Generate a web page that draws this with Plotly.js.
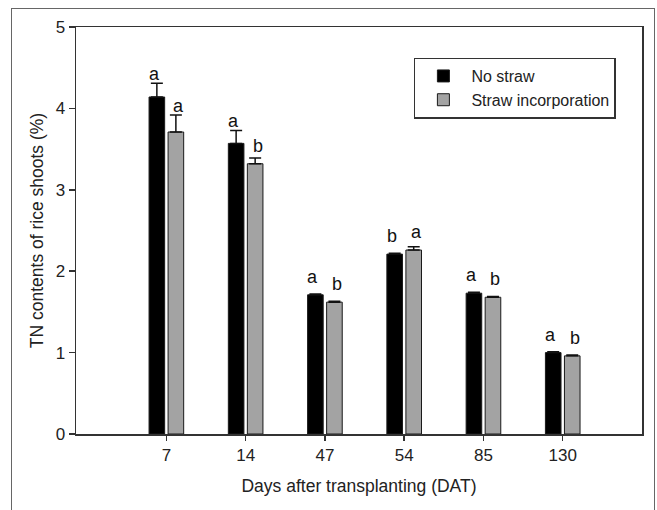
<!DOCTYPE html>
<html>
<head>
<meta charset="utf-8">
<script src="https://cdn.plot.ly/plotly-3.0.1.min.js"></script>
<style>
  html, body { margin: 0; padding: 0; background: #fff; }
  #wrap { position: relative; width: 657px; height: 510px; overflow: hidden; }
  #chart { width: 657px; height: 510px; }
  #frame { position: absolute; left: 11px; top: 8px; width: 644px; height: 520px;
           border: 1px solid #666; box-sizing: border-box; pointer-events: none; }
</style>
</head>
<body>
<div id="wrap"><div id="chart"></div><div id="frame"></div></div>
<script>
const days = ["7", "14", "47", "54", "85", "130"];
const noStraw = [4.14, 3.57, 1.71, 2.21, 1.73, 1.00];
const noStrawErr = [0.17, 0.16, 0.01, 0.01, 0.01, 0.01];
const strawInc = [3.71, 3.32, 1.62, 2.26, 1.68, 0.96];
const strawIncErr = [0.21, 0.07, 0.01, 0.04, 0.01, 0.01];
const noStrawLetters = ["a", "a", "a", "b", "a", "a"];
const strawIncLetters = ["a", "b", "b", "a", "b", "b"];

const font = "Liberation Sans, Arial, sans-serif";

const traces = [
  {
    type: "bar", name: "No straw", x: days, y: noStraw,
    marker: { color: "#000000", line: { color: "#1a1a1a", width: 1 } },
    error_y: { type: "data", array: noStrawErr, arrayminus: noStraw.map(() => 0),
               symmetric: false, color: "#111", thickness: 1.5, width: 6 }
  },
  {
    type: "bar", name: "Straw incorporation", x: days, y: strawInc,
    marker: { color: "#a3a3a3", line: { color: "#1a1a1a", width: 1 } },
    error_y: { type: "data", array: strawIncErr, arrayminus: strawInc.map(() => 0),
               symmetric: false, color: "#111", thickness: 1.5, width: 6 }
  }
];

// letter sits above the error cap, with a minimum clearance above the bar
const minGap = 0.11;
const annotations = [];
days.forEach((d, i) => {
  annotations.push({ x: i, y: Math.max(noStraw[i] + noStrawErr[i], noStraw[i] + minGap),
    text: noStrawLetters[i],
    xref: "x", yref: "y", showarrow: false, xshift: -12, yanchor: "bottom", yshift: -3,
    font: { family: font, size: 18, color: "#111" } });
  annotations.push({ x: i, y: Math.max(strawInc[i] + strawIncErr[i], strawInc[i] + minGap),
    text: strawIncLetters[i],
    xref: "x", yref: "y", showarrow: false, xshift: 12, yanchor: "bottom", yshift: -3,
    font: { family: font, size: 18, color: "#111" } });
});

const layout = {
  width: 657, height: 510,
  margin: { l: 76, r: 15, t: 27, b: 76 },
  paper_bgcolor: "rgba(0,0,0,0)", plot_bgcolor: "#fff",
  barmode: "group", bargap: 0.52, bargroupgap: 0.18,
  font: { family: font, size: 16, color: "#222" },
  showlegend: true,
  legend: {
    x: 0.597, y: 0.925, xanchor: "left", yanchor: "top",
    bgcolor: "#fff", bordercolor: "#333", borderwidth: 1.5,
    font: { family: font, size: 16, color: "#222" },
    tracegroupgap: 0, itemwidth: 46
  },
  xaxis: {
    type: "category", range: [-1.14, 6.0],
    showline: true, linecolor: "#333", linewidth: 1.5, mirror: true,
    ticks: "outside", ticklen: 5, tickcolor: "#333", tickwidth: 1.5,
    showgrid: false, zeroline: false,
    tickfont: { family: font, size: 17, color: "#222" },
    title: { text: "Days after transplanting (DAT)", font: { family: font, size: 17.5, color: "#222" }, standoff: 16 }
  },
  yaxis: {
    range: [0, 5], dtick: 1, tick0: 0,
    showline: true, linecolor: "#333", linewidth: 1.5, mirror: true,
    ticks: "outside", ticklen: 6, tickcolor: "#333", tickwidth: 1.5,
    showgrid: false, zeroline: false,
    tickfont: { family: font, size: 17, color: "#222" },
    title: { text: "TN contents of rice shoots (%)", font: { family: font, size: 17.5, color: "#222" }, standoff: 7 }
  },
  annotations: annotations
};

Plotly.newPlot("chart", traces, layout, { displayModeBar: false, staticPlot: true });
</script>
</body>
</html>
